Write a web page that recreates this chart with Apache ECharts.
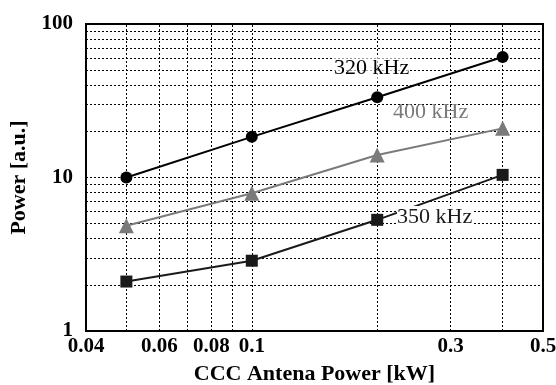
<!DOCTYPE html>
<html>
<head>
<meta charset="utf-8">
<script src="https://cdn.jsdelivr.net/npm/echarts@6/dist/echarts.min.js"></script>
<style>
  html, body { margin: 0; padding: 0; background: #fff; }
  #main { width: 556px; height: 385px; }
</style>
</head>
<body>
<div id="main"></div>
<script>
// antenna power [kW]
const power = [0.05, 0.1, 0.2, 0.4];
const s320 = [10, 18.4, 33.3, 61];
const s400 = [4.85, 7.9, 14.0, 20.9];
const s350 = [2.1, 2.87, 5.3, 10.4];

const xLabels = [0.04, 0.06, 0.08, 0.1, 0.3, 0.5];
const xGrid = [0.05, 0.06, 0.07, 0.08, 0.09, 0.1, 0.2, 0.3, 0.4];
const yGrid = [2, 3, 4, 5, 6, 7, 8, 9, 10, 20, 30, 40, 50, 60, 70, 80, 90];

const serif = '"Liberation Serif", "DejaVu Serif", serif';
const pairs = ys => power.map((x, i) => [x, ys[i]]);

const chart = echarts.init(document.getElementById('main'));

const dotted = { color: '#000', type: [2, 2], width: 1 };

chart.setOption({
  animation: false,
  grid: {
    left: 86, right: 13, top: 24, bottom: 54, outerBoundsMode: 'none', containLabel: false,
    show: true, borderColor: '#000', borderWidth: 2
  },
  xAxis: {
    type: 'log', logBase: 10, min: 0.04, max: 0.5,
    name: 'CCC Antena Power [kW]', nameLocation: 'middle', nameGap: 32,
    nameTextStyle: { fontFamily: serif, fontWeight: 'bold', fontSize: 22, color: '#000' },
    axisLine: { show: true, lineStyle: { color: '#000', width: 2 } },
    axisTick: { show: false },
    splitLine: { show: false },
    axisLabel: {
      customValues: xLabels,
      fontFamily: serif, fontWeight: 'bold', fontSize: 21, color: '#000', margin: 5,
      formatter: v => String(+v.toPrecision(3))
    }
  },
  yAxis: {
    type: 'log', logBase: 10, min: 1, max: 100,
    name: 'Power [a.u.]', nameLocation: 'middle', nameGap: 52,
    nameTextStyle: { fontFamily: serif, fontWeight: 'bold', fontSize: 22, color: '#000' },
    axisLine: { show: true, lineStyle: { color: '#000', width: 2 } },
    axisTick: { show: false },
    splitLine: { show: false },
    axisLabel: { fontFamily: serif, fontWeight: 'bold', fontSize: 21, color: '#000', margin: 13 }
  },
  series: [
    {
      type: 'line', data: [], silent: true,
      markLine: {
        silent: true, symbol: 'none', label: { show: false },
        lineStyle: dotted,
        data: xGrid.map(v => ({ xAxis: v })).concat(yGrid.map(v => ({ yAxis: v })))
      }
    },
    {
      name: '320 kHz', type: 'line', data: pairs(s320), z: 5,
      symbol: 'circle', symbolSize: 12,
      lineStyle: { color: '#000', width: 2 }, itemStyle: { color: '#000' }
    },
    {
      name: '400 kHz', type: 'line', data: pairs(s400), z: 5,
      symbol: 'triangle', symbolSize: 15,
      lineStyle: { color: '#7a7a7a', width: 2 }, itemStyle: { color: '#7a7a7a' }
    },
    {
      name: '350 kHz', type: 'line', data: pairs(s350), z: 5,
      symbol: 'rect', symbolSize: 12,
      lineStyle: { color: '#1a1a1a', width: 2 }, itemStyle: { color: '#1a1a1a' }
    }
  ],
  graphic: [
    { type: 'text', left: 334, top: 57, z: 10,
      style: { text: '320 kHz', font: '22px ' + serif, fill: '#000', backgroundColor: 'rgba(255,255,255,0.6)' } },
    { type: 'text', left: 393, top: 101, z: 10,
      style: { text: '400 kHz', font: '22px ' + serif, fill: '#7a7a7a' } },
    { type: 'text', left: 397, top: 206, z: 10,
      style: { text: '350 kHz', font: '22px ' + serif, fill: '#1a1a1a', backgroundColor: '#fff' } }
  ]
});
</script>
</body>
</html>
